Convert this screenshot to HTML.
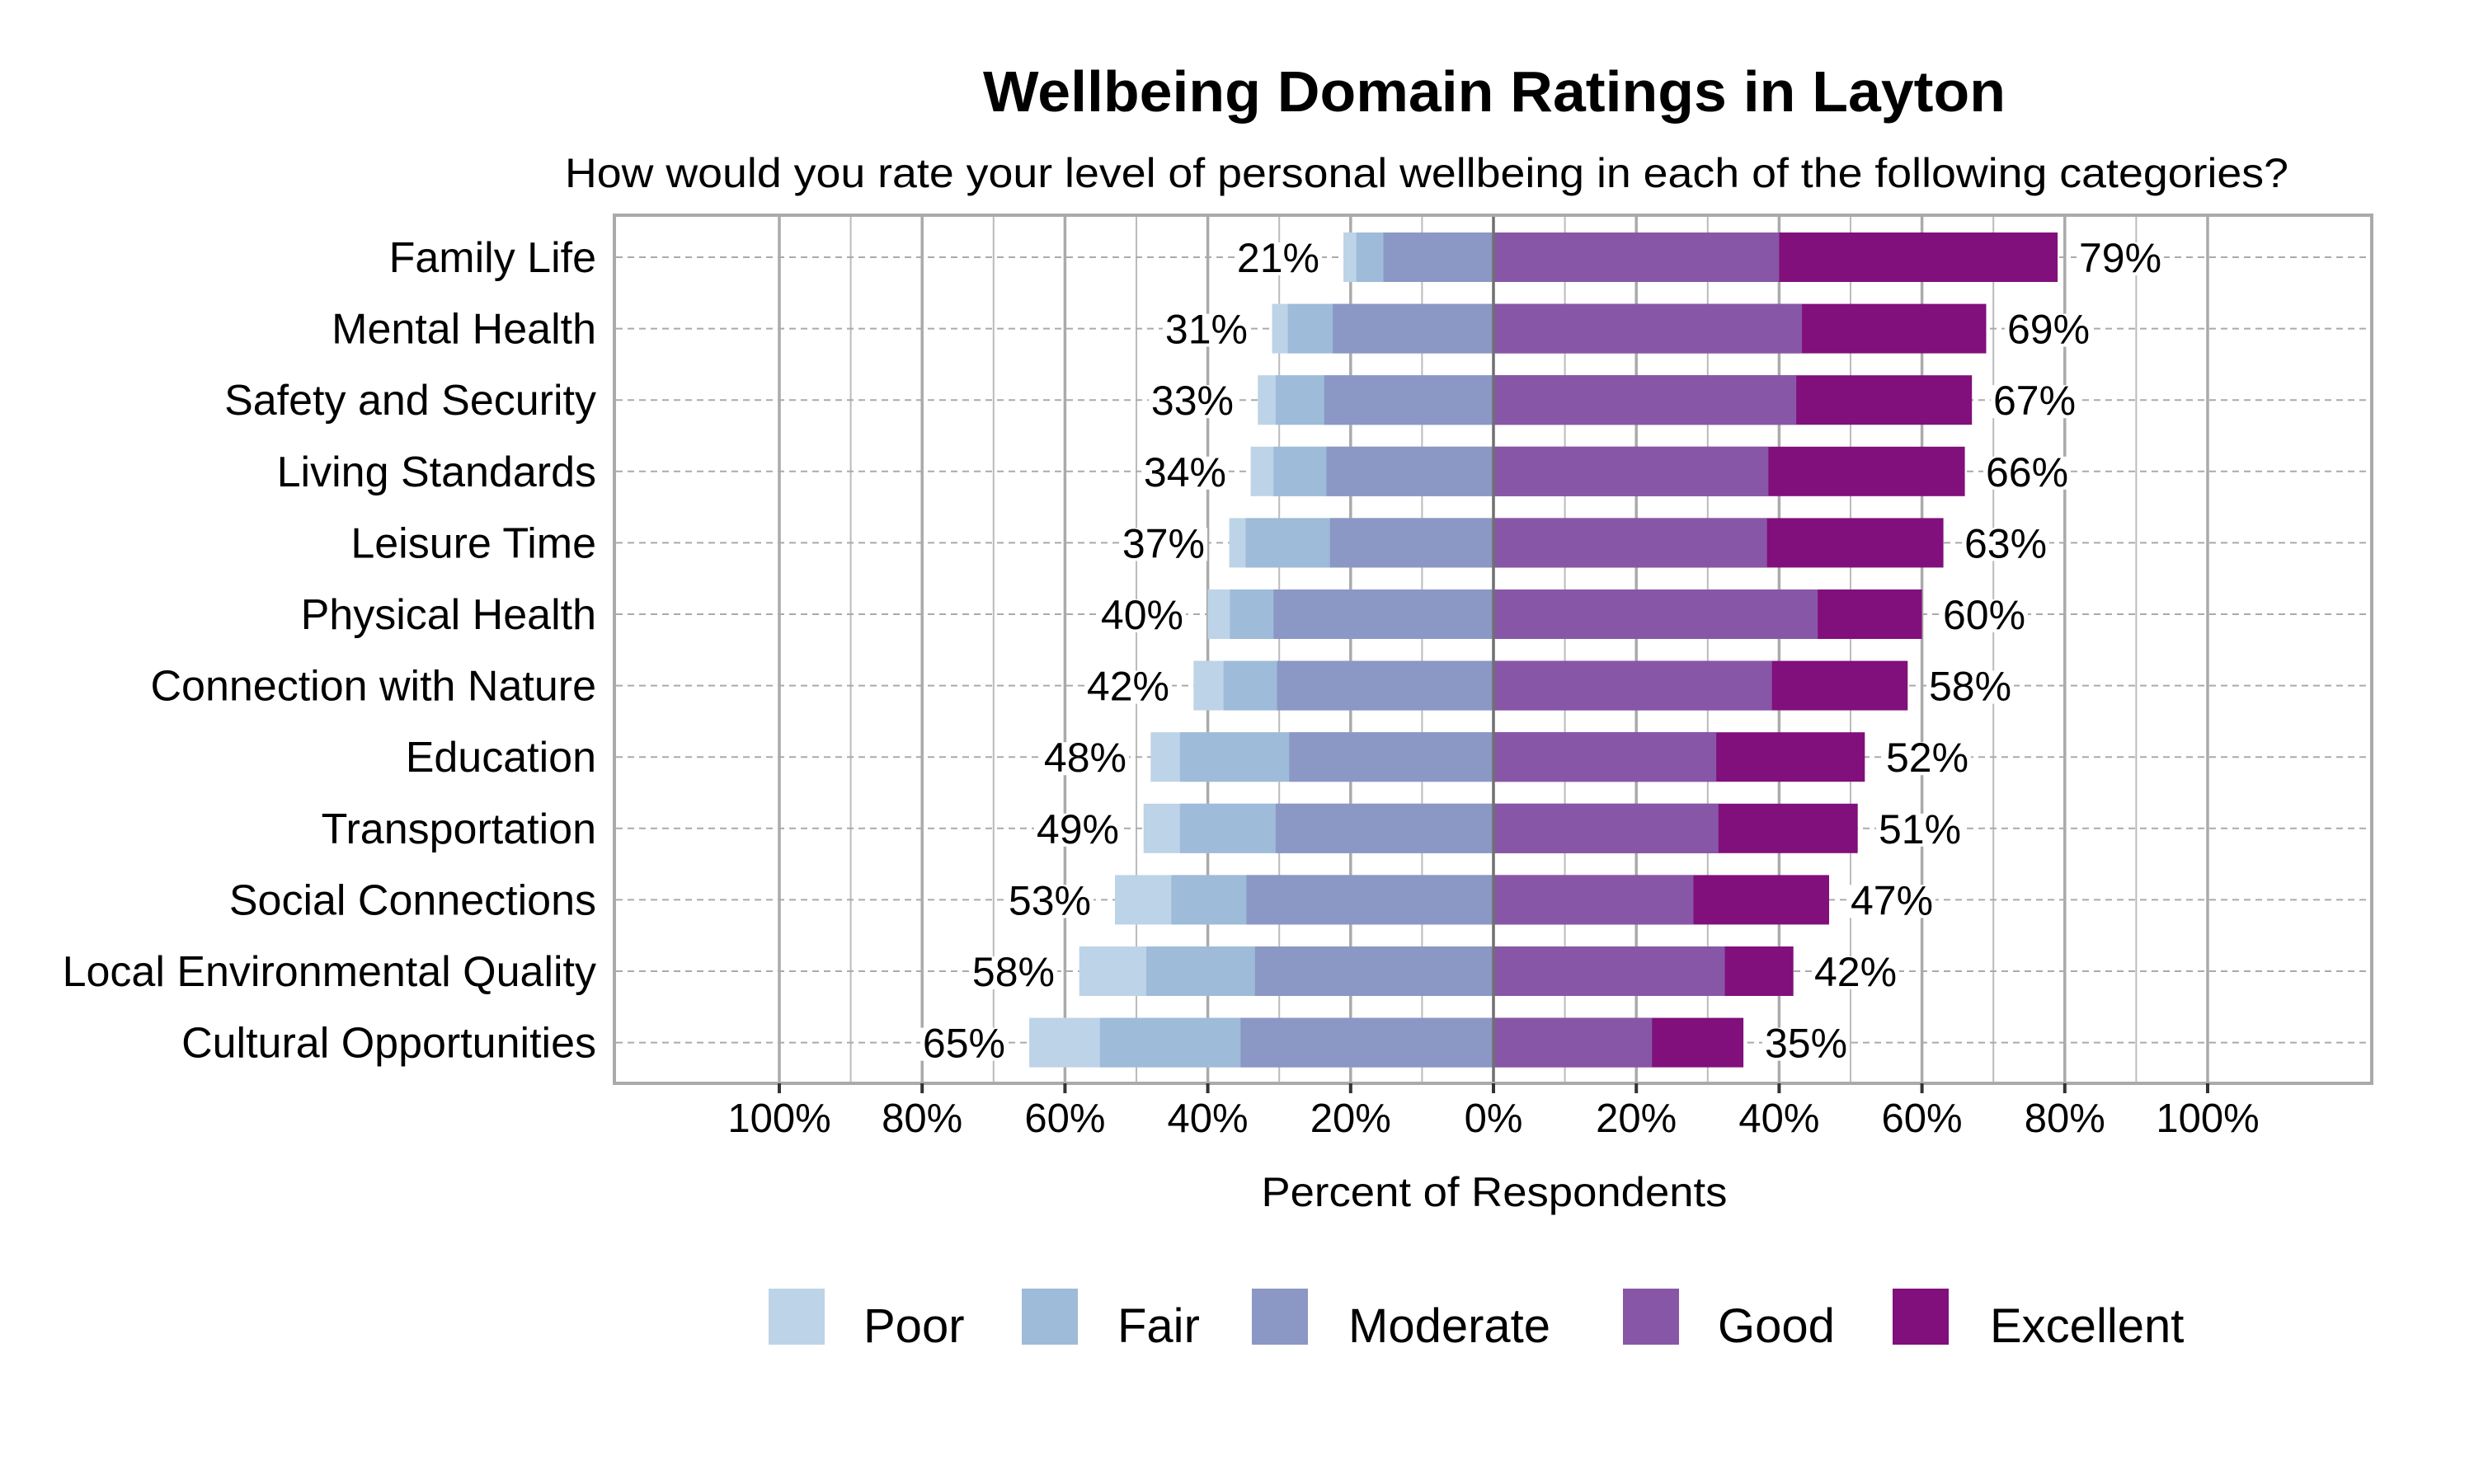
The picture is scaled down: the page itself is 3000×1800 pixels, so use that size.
<!DOCTYPE html>
<html><head><meta charset="utf-8"><style>html,body{margin:0;padding:0;background:#fff}svg{display:block}text{font-family:"Liberation Sans",sans-serif;fill:#000}</style></head>
<body>
<svg width="3000" height="1800" viewBox="0 0 3000 1800" xmlns="http://www.w3.org/2000/svg">
<rect width="3000" height="1800" fill="#fff"/>
<text x="1812" y="135" font-size="70" font-weight="bold" text-anchor="middle" textLength="1240" lengthAdjust="spacingAndGlyphs">Wellbeing Domain Ratings in Layton</text>
<text x="1730" y="227" font-size="50" text-anchor="middle" textLength="2090" lengthAdjust="spacingAndGlyphs">How would you rate your level of personal wellbeing in each of the following categories?</text>
<g stroke="#bbb" stroke-width="2">
<line x1="1031.6" y1="262" x2="1031.6" y2="1312"/><line x1="1204.8" y1="262" x2="1204.8" y2="1312"/><line x1="1378" y1="262" x2="1378" y2="1312"/><line x1="1551.2" y1="262" x2="1551.2" y2="1312"/><line x1="1724.4" y1="262" x2="1724.4" y2="1312"/><line x1="1897.6" y1="262" x2="1897.6" y2="1312"/><line x1="2070.8" y1="262" x2="2070.8" y2="1312"/><line x1="2244" y1="262" x2="2244" y2="1312"/><line x1="2417.2" y1="262" x2="2417.2" y2="1312"/><line x1="2590.4" y1="262" x2="2590.4" y2="1312"/>
</g>
<g stroke="#aaa" stroke-width="3.5">
<line x1="945" y1="262" x2="945" y2="1312"/><line x1="1118.2" y1="262" x2="1118.2" y2="1312"/><line x1="1291.4" y1="262" x2="1291.4" y2="1312"/><line x1="1464.6" y1="262" x2="1464.6" y2="1312"/><line x1="1637.8" y1="262" x2="1637.8" y2="1312"/><line x1="1984.2" y1="262" x2="1984.2" y2="1312"/><line x1="2157.4" y1="262" x2="2157.4" y2="1312"/><line x1="2330.6" y1="262" x2="2330.6" y2="1312"/><line x1="2503.8" y1="262" x2="2503.8" y2="1312"/><line x1="2677" y1="262" x2="2677" y2="1312"/>
</g>
<g stroke="#aaa" stroke-width="2" stroke-dasharray="8,6">
<line x1="747" y1="312" x2="2875" y2="312"/><line x1="747" y1="398.6" x2="2875" y2="398.6"/><line x1="747" y1="485.2" x2="2875" y2="485.2"/><line x1="747" y1="571.8" x2="2875" y2="571.8"/><line x1="747" y1="658.4" x2="2875" y2="658.4"/><line x1="747" y1="745" x2="2875" y2="745"/><line x1="747" y1="831.6" x2="2875" y2="831.6"/><line x1="747" y1="918.2" x2="2875" y2="918.2"/><line x1="747" y1="1004.8" x2="2875" y2="1004.8"/><line x1="747" y1="1091.4" x2="2875" y2="1091.4"/><line x1="747" y1="1178" x2="2875" y2="1178"/><line x1="747" y1="1264.6" x2="2875" y2="1264.6"/>
</g>
<g font-size="52" text-anchor="end">
<text x="723" y="330">Family Life</text>
<text x="723" y="416.6">Mental Health</text>
<text x="723" y="503.2">Safety and Security</text>
<text x="723" y="589.8">Living Standards</text>
<text x="723" y="676.4">Leisure Time</text>
<text x="723" y="763">Physical Health</text>
<text x="723" y="849.6">Connection with Nature</text>
<text x="723" y="936.2">Education</text>
<text x="723" y="1022.8">Transportation</text>
<text x="723" y="1109.4">Social Connections</text>
<text x="723" y="1196">Local Environmental Quality</text>
<text x="723" y="1282.6">Cultural Opportunities</text>
</g>
<g id="bars">
<g transform="translate(0,282)">
<rect x="1629.1" width="181.9" height="60" fill="#bdd3e7"/><rect x="1644.7" width="166.3" height="60" fill="#9ebbd9"/><rect x="1677.6" width="133.4" height="60" fill="#8b97c5"/>
<rect x="1811" width="684.1" height="60" fill="#810f7c"/><rect x="1811" width="346.4" height="60" fill="#8856a7"/></g>
<g transform="translate(0,368.6)">
<rect x="1542.5" width="268.5" height="60" fill="#bdd3e7"/><rect x="1561.6" width="249.4" height="60" fill="#9ebbd9"/><rect x="1616.2" width="194.8" height="60" fill="#8b97c5"/>
<rect x="1811" width="597.5" height="60" fill="#810f7c"/><rect x="1811" width="374.1" height="60" fill="#8856a7"/></g>
<g transform="translate(0,455.2)">
<rect x="1525.2" width="285.8" height="60" fill="#bdd3e7"/><rect x="1546.9" width="264.1" height="60" fill="#9ebbd9"/><rect x="1605.8" width="205.2" height="60" fill="#8b97c5"/>
<rect x="1811" width="580.2" height="60" fill="#810f7c"/><rect x="1811" width="367.2" height="60" fill="#8856a7"/></g>
<g transform="translate(0,541.8)">
<rect x="1516.6" width="294.4" height="60" fill="#bdd3e7"/><rect x="1544.3" width="266.7" height="60" fill="#9ebbd9"/><rect x="1608.4" width="202.6" height="60" fill="#8b97c5"/>
<rect x="1811" width="571.6" height="60" fill="#810f7c"/><rect x="1811" width="333.4" height="60" fill="#8856a7"/></g>
<g transform="translate(0,628.4)">
<rect x="1490.6" width="320.4" height="60" fill="#bdd3e7"/><rect x="1510.5" width="300.5" height="60" fill="#9ebbd9"/><rect x="1612.7" width="198.3" height="60" fill="#8b97c5"/>
<rect x="1811" width="545.6" height="60" fill="#810f7c"/><rect x="1811" width="331.7" height="60" fill="#8856a7"/></g>
<g transform="translate(0,715)">
<rect x="1464.6" width="346.4" height="60" fill="#bdd3e7"/><rect x="1491.4" width="319.6" height="60" fill="#9ebbd9"/><rect x="1544.3" width="266.7" height="60" fill="#8b97c5"/>
<rect x="1811" width="519.6" height="60" fill="#810f7c"/><rect x="1811" width="393.2" height="60" fill="#8856a7"/></g>
<g transform="translate(0,801.6)">
<rect x="1447.3" width="363.7" height="60" fill="#bdd3e7"/><rect x="1483.7" width="327.3" height="60" fill="#9ebbd9"/><rect x="1548.6" width="262.4" height="60" fill="#8b97c5"/>
<rect x="1811" width="502.3" height="60" fill="#810f7c"/><rect x="1811" width="337.7" height="60" fill="#8856a7"/></g>
<g transform="translate(0,888.2)">
<rect x="1395.3" width="415.7" height="60" fill="#bdd3e7"/><rect x="1430.8" width="380.2" height="60" fill="#9ebbd9"/><rect x="1563.3" width="247.7" height="60" fill="#8b97c5"/>
<rect x="1811" width="450.3" height="60" fill="#810f7c"/><rect x="1811" width="270.2" height="60" fill="#8856a7"/></g>
<g transform="translate(0,974.8)">
<rect x="1386.7" width="424.3" height="60" fill="#bdd3e7"/><rect x="1430.8" width="380.2" height="60" fill="#9ebbd9"/><rect x="1546.9" width="264.1" height="60" fill="#8b97c5"/>
<rect x="1811" width="441.7" height="60" fill="#810f7c"/><rect x="1811" width="272.8" height="60" fill="#8856a7"/></g>
<g transform="translate(0,1061.4)">
<rect x="1352" width="459" height="60" fill="#bdd3e7"/><rect x="1420.4" width="390.6" height="60" fill="#9ebbd9"/><rect x="1511.4" width="299.6" height="60" fill="#8b97c5"/>
<rect x="1811" width="407" height="60" fill="#810f7c"/><rect x="1811" width="242.5" height="60" fill="#8856a7"/></g>
<g transform="translate(0,1148)">
<rect x="1308.7" width="502.3" height="60" fill="#bdd3e7"/><rect x="1390.1" width="420.9" height="60" fill="#9ebbd9"/><rect x="1521.8" width="289.2" height="60" fill="#8b97c5"/>
<rect x="1811" width="363.7" height="60" fill="#810f7c"/><rect x="1811" width="280.6" height="60" fill="#8856a7"/></g>
<g transform="translate(0,1234.6)">
<rect x="1248.1" width="562.9" height="60" fill="#bdd3e7"/><rect x="1333.8" width="477.2" height="60" fill="#9ebbd9"/><rect x="1504.4" width="306.6" height="60" fill="#8b97c5"/>
<rect x="1811" width="303.1" height="60" fill="#810f7c"/><rect x="1811" width="192.3" height="60" fill="#8856a7"/></g>
</g>
<line x1="1811" y1="262" x2="1811" y2="1312" stroke="#707070" stroke-width="3.5"/>
<g fill="#fff">
<rect x="1497" y="294" width="106" height="40"/><rect x="1410" y="380.6" width="106" height="40"/><rect x="1393" y="467.2" width="106" height="40"/><rect x="1384" y="553.8" width="106" height="40"/><rect x="1358" y="640.4" width="106" height="40"/><rect x="1332" y="727" width="106" height="40"/><rect x="1315" y="813.6" width="106" height="40"/><rect x="1263" y="900.2" width="106" height="40"/><rect x="1254" y="986.8" width="106" height="40"/><rect x="1220" y="1073.4" width="106" height="40"/><rect x="1176" y="1160" width="106" height="40"/><rect x="1116" y="1246.6" width="106" height="40"/>
<rect x="2518" y="294" width="106" height="40"/><rect x="2431" y="380.6" width="106" height="40"/><rect x="2414" y="467.2" width="106" height="40"/><rect x="2405" y="553.8" width="106" height="40"/><rect x="2379" y="640.4" width="106" height="40"/><rect x="2353" y="727" width="106" height="40"/><rect x="2336" y="813.6" width="106" height="40"/><rect x="2284" y="900.2" width="106" height="40"/><rect x="2275" y="986.8" width="106" height="40"/><rect x="2241" y="1073.4" width="106" height="40"/><rect x="2197" y="1160" width="106" height="40"/><rect x="2137" y="1246.6" width="106" height="40"/>
</g>
<g font-size="50" text-anchor="end">
<text x="1600" y="330">21%</text><text x="1513" y="416.6">31%</text><text x="1496" y="503.2">33%</text><text x="1487" y="589.8">34%</text><text x="1461" y="676.4">37%</text><text x="1435" y="763">40%</text><text x="1418" y="849.6">42%</text><text x="1366" y="936.2">48%</text><text x="1357" y="1022.8">49%</text><text x="1323" y="1109.4">53%</text><text x="1279" y="1196">58%</text><text x="1219" y="1282.6">65%</text>
</g>
<g font-size="50" text-anchor="start">
<text x="2521" y="330">79%</text><text x="2434" y="416.6">69%</text><text x="2417" y="503.2">67%</text><text x="2408" y="589.8">66%</text><text x="2382" y="676.4">63%</text><text x="2356" y="763">60%</text><text x="2339" y="849.6">58%</text><text x="2287" y="936.2">52%</text><text x="2278" y="1022.8">51%</text><text x="2244" y="1109.4">47%</text><text x="2200" y="1196">42%</text><text x="2140" y="1282.6">35%</text>
</g>
<rect x="745" y="261" width="2131" height="1053" fill="none" stroke="#aaa" stroke-width="4"/>
<g stroke="#333" stroke-width="4">
<line x1="945" y1="1314" x2="945" y2="1326"/><line x1="1118.2" y1="1314" x2="1118.2" y2="1326"/><line x1="1291.4" y1="1314" x2="1291.4" y2="1326"/><line x1="1464.6" y1="1314" x2="1464.6" y2="1326"/><line x1="1637.8" y1="1314" x2="1637.8" y2="1326"/><line x1="1811" y1="1314" x2="1811" y2="1326"/><line x1="1984.2" y1="1314" x2="1984.2" y2="1326"/><line x1="2157.4" y1="1314" x2="2157.4" y2="1326"/><line x1="2330.6" y1="1314" x2="2330.6" y2="1326"/><line x1="2503.8" y1="1314" x2="2503.8" y2="1326"/><line x1="2677" y1="1314" x2="2677" y2="1326"/>
</g>
<g font-size="49" text-anchor="middle">
<text x="945" y="1373">100%</text><text x="1118.2" y="1373">80%</text><text x="1291.4" y="1373">60%</text><text x="1464.6" y="1373">40%</text><text x="1637.8" y="1373">20%</text><text x="1811" y="1373">0%</text><text x="1984.2" y="1373">20%</text><text x="2157.4" y="1373">40%</text><text x="2330.6" y="1373">60%</text><text x="2503.8" y="1373">80%</text><text x="2677" y="1373">100%</text>
</g>
<text x="1812" y="1463" font-size="50" text-anchor="middle" textLength="565" lengthAdjust="spacingAndGlyphs">Percent of Respondents</text>
<rect x="932" y="1563" width="68" height="68" fill="#bdd3e7"/>
<rect x="1239" y="1563" width="68" height="68" fill="#9ebbd9"/>
<rect x="1518" y="1563" width="68" height="68" fill="#8b97c5"/>
<rect x="1968" y="1563" width="68" height="68" fill="#8856a7"/>
<rect x="2295" y="1563" width="68" height="68" fill="#810f7c"/>
<g font-size="58">
<text x="1047" y="1628">Poor</text>
<text x="1355" y="1628">Fair</text>
<text x="1635" y="1628">Moderate</text>
<text x="2083" y="1628">Good</text>
<text x="2413" y="1628">Excellent</text>
</g>
</svg>
</body></html>
